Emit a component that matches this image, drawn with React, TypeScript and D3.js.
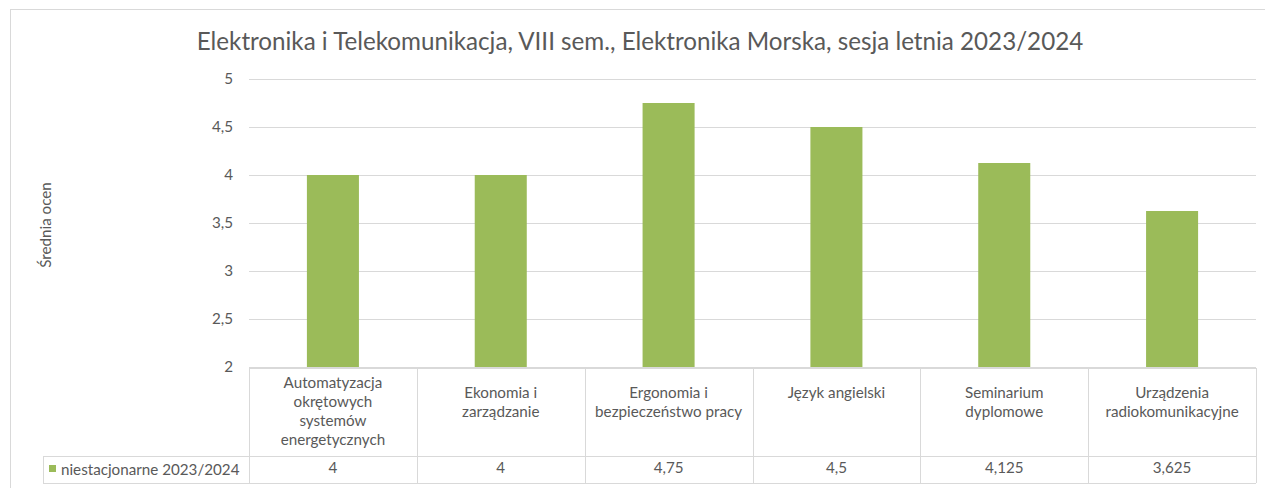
import React from "react";
import * as d3 from "d3";

const title = "Elektronika i Telekomunikacja, VIII sem., Elektronika Morska, sesja letnia 2023/2024";
const yAxisTitle = "Średnia ocen";
const seriesName = "niestacjonarne 2023/2024";
const categories: string[][] = [
  ["Automatyzacja", "okrętowych", "systemów", "energetycznych"],
  ["Ekonomia i", "zarządzanie"],
  ["Ergonomia i", "bezpieczeństwo pracy"],
  ["Język angielski"],
  ["Seminarium", "dyplomowe"],
  ["Urządzenia", "radiokomunikacyjne"],
];
const values = [4, 4, 4.75, 4.5, 4.125, 3.625];
const valueLabels = ["4", "4", "4,75", "4,5", "4,125", "3,625"];
const yTicks = [2, 2.5, 3, 3.5, 4, 4.5, 5];

const W = 1265;
const H = 488;
const FONT = "Lato, 'Open Sans', sans-serif";
const TEXT = "#595959";
const GRID = "#D9D9D9";
const BAR = "#9BBB59";

export default function App() {
  const left = 249;
  const right = 1256;
  const top = 79;
  const bottom = 367;
  const tableTop = 368;
  const rowSplit = 456;
  const tableBottom = 483;
  const legendLeft = 43;

  const x = d3
    .scaleBand<number>()
    .domain(d3.range(values.length))
    .range([left, right])
    .paddingInner(0)
    .paddingOuter(0);
  const y = d3.scaleLinear().domain([2, 5]).range([bottom, top]);
  const barW = x.bandwidth() * 0.31;
  const fmt = (v: number) => String(v).replace(".", ",");
  const fs = 15.2;

  return (
    <svg
      width={W}
      height={H}
      style={{ position: "absolute", left: 0, top: 0, background: "#fff" }}
      fontFamily={FONT}
    >
      <rect x={10.5} y={9.5} width={W} height={H} fill="#fff" stroke={GRID} />
      <text x={640} y={50} textAnchor="middle" fontSize={24.2} fill={TEXT}>
        {title}
      </text>
      {yTicks.map((t) => (
        <g key={t}>
          <line x1={left} x2={right} y1={y(t) + 0.5} y2={y(t) + 0.5} stroke={GRID} />
          <text x={233} y={y(t) + 5} textAnchor="end" fontSize={fs} fill={TEXT}>
            {fmt(t)}
          </text>
        </g>
      ))}
      <text
        transform={`translate(51,225) rotate(-90)`}
        textAnchor="middle"
        fontSize={fs}
        fill={TEXT}
      >
        {yAxisTitle}
      </text>
      {values.map((v, i) => (
        <rect
          key={i}
          x={x(i)! + (x.bandwidth() - barW) / 2}
          y={y(v)}
          width={barW}
          height={y(2) - y(v)}
          fill={BAR}
        />
      ))}
      <g stroke={GRID} fill="none">
        <line x1={left} x2={right} y1={tableTop + 0.5} y2={tableTop + 0.5} />
        <line x1={legendLeft} x2={right} y1={rowSplit + 0.5} y2={rowSplit + 0.5} />
        <line x1={legendLeft} x2={right} y1={tableBottom + 0.5} y2={tableBottom + 0.5} />
        <line x1={legendLeft + 0.5} x2={legendLeft + 0.5} y1={rowSplit} y2={tableBottom} />
        {d3.range(values.length + 1).map((i) => {
          const xx = Math.round(i < values.length ? x(i)! : right) + 0.5;
          return <line key={i} x1={xx} x2={xx} y1={tableTop} y2={tableBottom} />;
        })}
      </g>
      {categories.map((lines, i) => {
        const cx = x(i)! + x.bandwidth() / 2;
        const lh = 19;
        const firstCenter = lines.length <= 2 ? 393 : 383;
        return (
          <text key={i} textAnchor="middle" fontSize={fs} fill={TEXT}>
            {lines.map((l, j) => (
              <tspan key={j} x={cx} y={firstCenter + j * lh + 5}>
                {l}
              </tspan>
            ))}
          </text>
        );
      })}
      {valueLabels.map((l, i) => (
        <text
          key={i}
          x={x(i)! + x.bandwidth() / 2}
          y={472.5}
          textAnchor="middle"
          fontSize={fs}
          fill={TEXT}
        >
          {l}
        </text>
      ))}
      <rect x={49} y={465} width={7} height={7} fill={BAR} />
      <text x={61} y={474.5} fontSize={fs} fill={TEXT}>
        {seriesName}
      </text>
    </svg>
  );
}
